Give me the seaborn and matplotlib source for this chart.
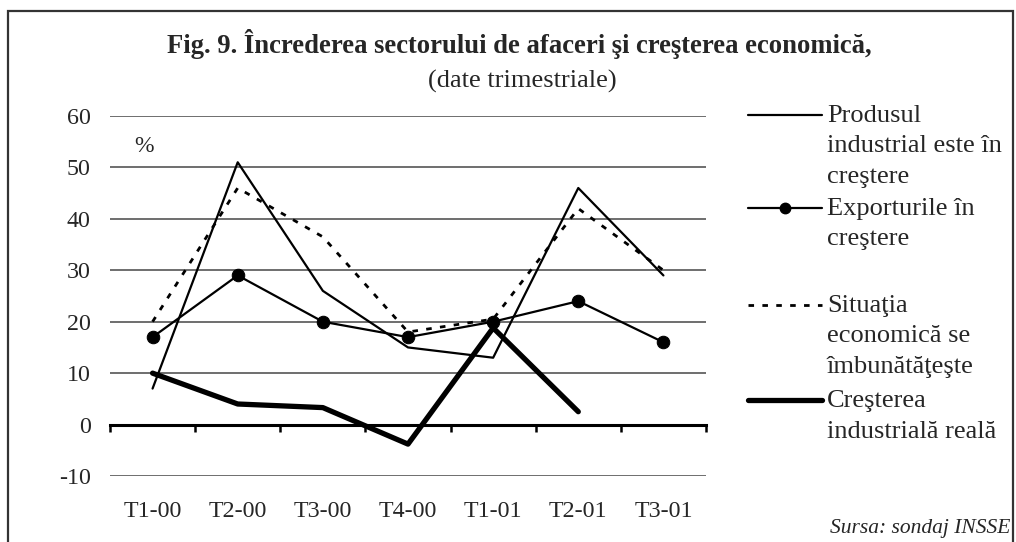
import matplotlib
matplotlib.use("Agg")
import matplotlib.pyplot as plt
import seaborn as sns
import pandas as pd
import numpy as np
from matplotlib.lines import Line2D
from matplotlib.patches import Rectangle

# ---- data ----
quarters = ["T1-00", "T2-00", "T3-00", "T4-00", "T1-01", "T2-01", "T3-01"]
produs_industrial = [7, 51, 26, 15, 13, 46, 29]
exporturi = [17, 29, 20, 17, 20, 24, 16]
situatia_economica = [20, 46, 36.5, 18, 20.5, 42, 30]
crestere_reala = [10, 4, 3.3, -3.8, 18.8, 2.5, np.nan]

legend_labels = [
    "Produsul\nindustrial este în\ncreştere",
    "Exporturile în\ncreştere",
    "Situaţia\neconomică se\nîmbunătăţeşte",
    "Creşterea\nindustrială reală",
]
title = "Fig. 9. Încrederea sectorului de afaceri şi creşterea economică,"
subtitle = "(date trimestriale)"
source = "Sursa: sondaj INSSE"
yticks = [-10, 0, 10, 20, 30, 40, 50, 60]

sns.set_style("white")
plt.rcParams["font.family"] = ["Liberation Serif", "DejaVu Serif"]

W, H = 1016, 542
fig = plt.figure(figsize=(W / 100, H / 100), dpi=100)


def fx(px):
    return px / W


def fy(py):
    return 1 - py / H


ax = fig.add_axes([fx(110), fy(476), fx(706) - fx(110), fy(116) - fy(476)])

df = pd.DataFrame({
    "q": quarters,
    "prod": produs_industrial,
    "exp": exporturi,
    "sit": situatia_economica,
    "cr": crestere_reala,
})
x = np.arange(len(quarters))
df["x"] = x

sns.lineplot(data=df, x="x", y="prod", ax=ax, color="black", lw=1.6)
sns.lineplot(data=df, x="x", y="sit", ax=ax, color="black", lw=2.0,
             linestyle=(0, (2.0, 3.0)))
sns.lineplot(data=df, x="x", y="exp", ax=ax, color="black", lw=1.6,
             marker="o", markersize=9, markeredgecolor="black")
sns.lineplot(data=df, x="x", y="cr", ax=ax, color="black", lw=3.8)

ax.set_xlim(-0.5, len(quarters) - 0.5)
ax.set_ylim(-10, 60)
ax.set_xlabel("")
ax.set_ylabel("")

# y axis
ax.set_yticks(yticks)
ax.set_yticklabels([str(v) for v in yticks])
ax.tick_params(axis="y", length=0, pad=14, labelsize=17.3)
ax.yaxis.grid(True, color="#555555", lw=1.2)
ax.set_axisbelow(True)

# x axis crossing at 0
for s in ["left", "right", "top"]:
    ax.spines[s].set_visible(False)
ax.spines["bottom"].set_position(("data", 0))
ax.spines["bottom"].set_linewidth(2.2)
ax.spines["bottom"].set_color("black")
ax.set_xticks(x)
ax.set_xticklabels(quarters)
ax.set_xticks(np.arange(-0.5, len(quarters)), minor=True)
ax.tick_params(axis="x", which="major", bottom=True, length=0, pad=55,
               labelsize=17.3)
ax.tick_params(axis="x", which="minor", bottom=True, length=5, width=1.8,
               direction="out", color="black")

ax.text(fx(144), fy(146), "%", transform=fig.transFigure, fontsize=17,
        ha="center", va="center")

# titles
fig.text(fx(519), fy(53), title, fontsize=19.2, fontweight="bold",
         ha="center", va="baseline")
fig.text(fx(522), fy(88), subtitle, fontsize=19, ha="center", va="baseline")
fig.text(fx(1010), fy(533), source, fontsize=15.5, style="italic",
         ha="right", va="baseline")

# legend (manual)
styles = [
    dict(lw=1.6, ls="-"),
    dict(lw=1.6, ls="-", marker="o", markersize=7.5),
    dict(lw=2.0, ls=(0, (2.0, 3.0))),
    dict(lw=3.8, ls="-"),
]
item_y = [115, 208, 305, 400]
line_gap = 30.5
for lab, st, yy in zip(legend_labels, styles, item_y):
    st = dict(st)
    marker = st.pop("marker", None)
    ms = st.pop("markersize", None)
    fig.add_artist(Line2D([fx(748), fx(822)], [fy(yy), fy(yy)],
                          transform=fig.transFigure, color="black", **st))
    if marker:
        fig.add_artist(Line2D([fx(785)], [fy(yy)], transform=fig.transFigure,
                              color="black", marker=marker, markersize=ms,
                              linestyle="none"))
    for i, line in enumerate(lab.split("\n")):
        fig.text(fx(827), fy(yy + i * line_gap + 7), line, fontsize=19,
                 ha="left", va="baseline")

# outer frame
fig.add_artist(Rectangle((fx(8), fy(560)), fx(1013) - fx(8), fy(11) - fy(560),
                         transform=fig.transFigure, fill=False,
                         edgecolor="#333333", lw=1.6, clip_on=False))

fig.savefig("out.png", dpi=100)
